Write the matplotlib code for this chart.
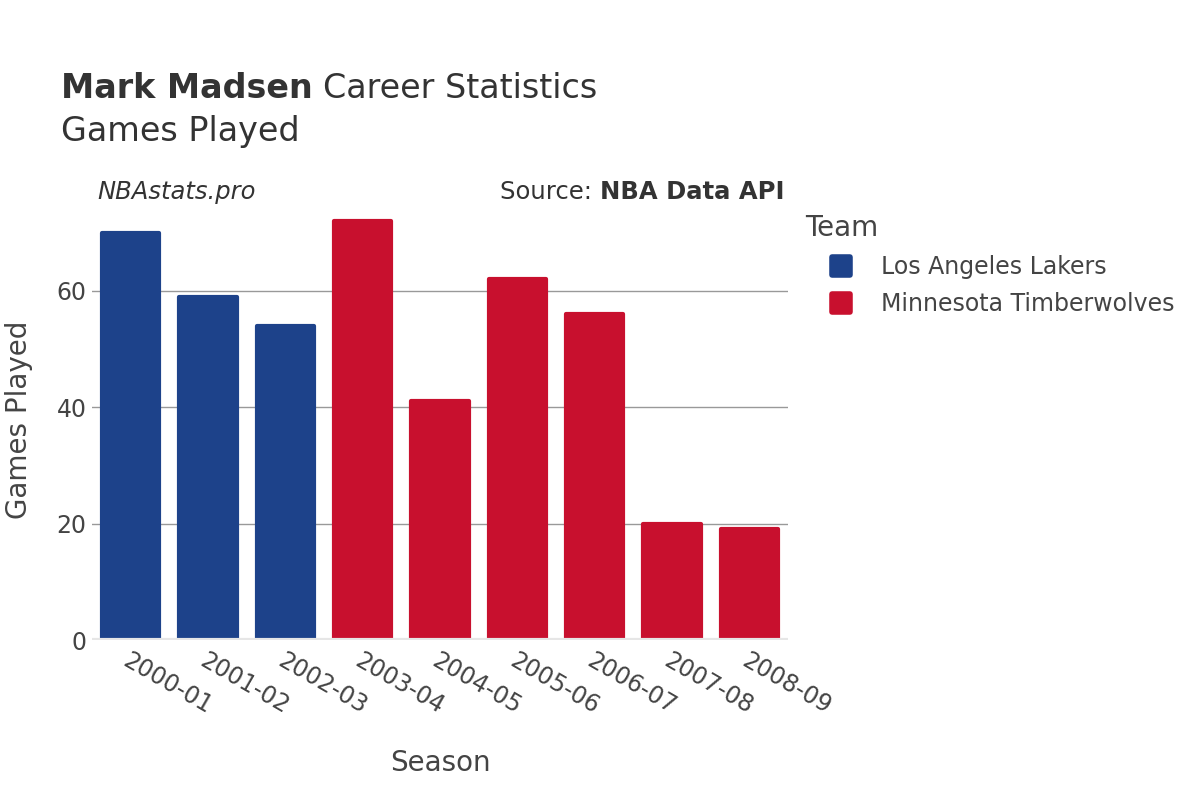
import matplotlib.pyplot as plt
from matplotlib.lines import Line2D
from matplotlib.markers import MarkerStyle

# data
seasons = ['2000-01', '2001-02', '2002-03', '2003-04', '2004-05',
           '2005-06', '2006-07', '2007-08', '2008-09']
games = [70, 59, 54, 72, 41, 62, 56, 20, 19]
teams = ['Los Angeles Lakers', 'Los Angeles Lakers', 'Los Angeles Lakers',
         'Minnesota Timberwolves', 'Minnesota Timberwolves', 'Minnesota Timberwolves',
         'Minnesota Timberwolves', 'Minnesota Timberwolves', 'Minnesota Timberwolves']
team_names = ['Los Angeles Lakers', 'Minnesota Timberwolves']
team_colors = {'Los Angeles Lakers': '#1D428A', 'Minnesota Timberwolves': '#C8102E'}

text_color = '#444444'
title_color = '#333333'
plt.rcParams['font.family'] = ['DejaVu Sans']

fig = plt.figure(figsize=(12, 8), dpi=100)
ax = fig.add_axes([92 / 1200, 160 / 800, 696 / 1200, 440 / 800])

x = list(range(len(seasons)))
colors = [team_colors[t] for t in teams]
# thick edge with round joins gives the slightly rounded bar corners
bars = ax.bar(x, games, width=0.74, color=colors, edgecolor=colors, linewidth=3, zorder=3)
for b in bars:
    b.set_joinstyle('round')

ax.set_xlim(-0.5, len(seasons) - 0.5)
ax.set_ylim(0, max(games) * 1.05)
ax.set_yticks([0, 20, 40, 60])
ax.grid(axis='y', color='#999999', linewidth=1, zorder=0)
ax.axhline(0, color='#e6e6e6', linewidth=3, zorder=4)
for s in ax.spines.values():
    s.set_visible(False)
ax.tick_params(axis='both', length=0, labelsize=17, colors=text_color)
ax.tick_params(axis='y', pad=4)
ax.set_xticks(x)
ax.set_xticklabels(seasons, rotation=-30, ha='left', va='top', rotation_mode='anchor')
ax.tick_params(axis='x', pad=6)

ax.set_xlabel('Season', fontsize=20, color=text_color, labelpad=22)
ax.set_ylabel('Games Played', fontsize=20, color=text_color, labelpad=17)

# titles, pieces placed side by side
renderer = fig.canvas.get_renderer()
t1 = fig.text(61 / 1200, 1 - 88 / 800, 'Mark Madsen', fontsize=24, fontweight='bold',
              color=title_color, va='center')
w1 = t1.get_window_extent(renderer).width
fig.text(61 / 1200 + (w1 + 10) / 1200, 1 - 88 / 800, 'Career Statistics', fontsize=24,
         color=title_color, va='center')
fig.text(61 / 1200, 1 - 132 / 800, 'Games Played', fontsize=24,
         color=title_color, va='center')
fig.text(97 / 1200, 1 - 192 / 800, 'NBAstats.pro', fontsize=17.5, style='italic',
         color=title_color, va='center')
t2 = fig.text(784 / 1200, 1 - 192 / 800, 'NBA Data API', fontsize=17.5, fontweight='bold',
              color=title_color, va='center', ha='right')
w2 = t2.get_window_extent(renderer).width
fig.text((784 - w2) / 1200, 1 - 192 / 800, 'Source: ', fontsize=17.5, color=title_color,
         va='center', ha='right')

handles = [Line2D([0], [0], marker=MarkerStyle('s', joinstyle='round'), linestyle='none',
                  markersize=13, markeredgewidth=4,
                  markerfacecolor=team_colors[t], markeredgecolor=team_colors[t])
           for t in team_names]
leg = fig.legend(handles, team_names, title='Team', loc='upper left',
                 bbox_to_anchor=(796 / 1200, 1 - 205 / 800), frameon=False,
                 fontsize=17, title_fontsize=20, labelspacing=0.55,
                 handletextpad=0.22, handlelength=2.98, borderaxespad=0)
leg._legend_box.align = 'left'
for t in leg.get_texts():
    t.set_color(text_color)
leg.get_title().set_color(text_color)

fig.savefig('out.png', dpi=100)
